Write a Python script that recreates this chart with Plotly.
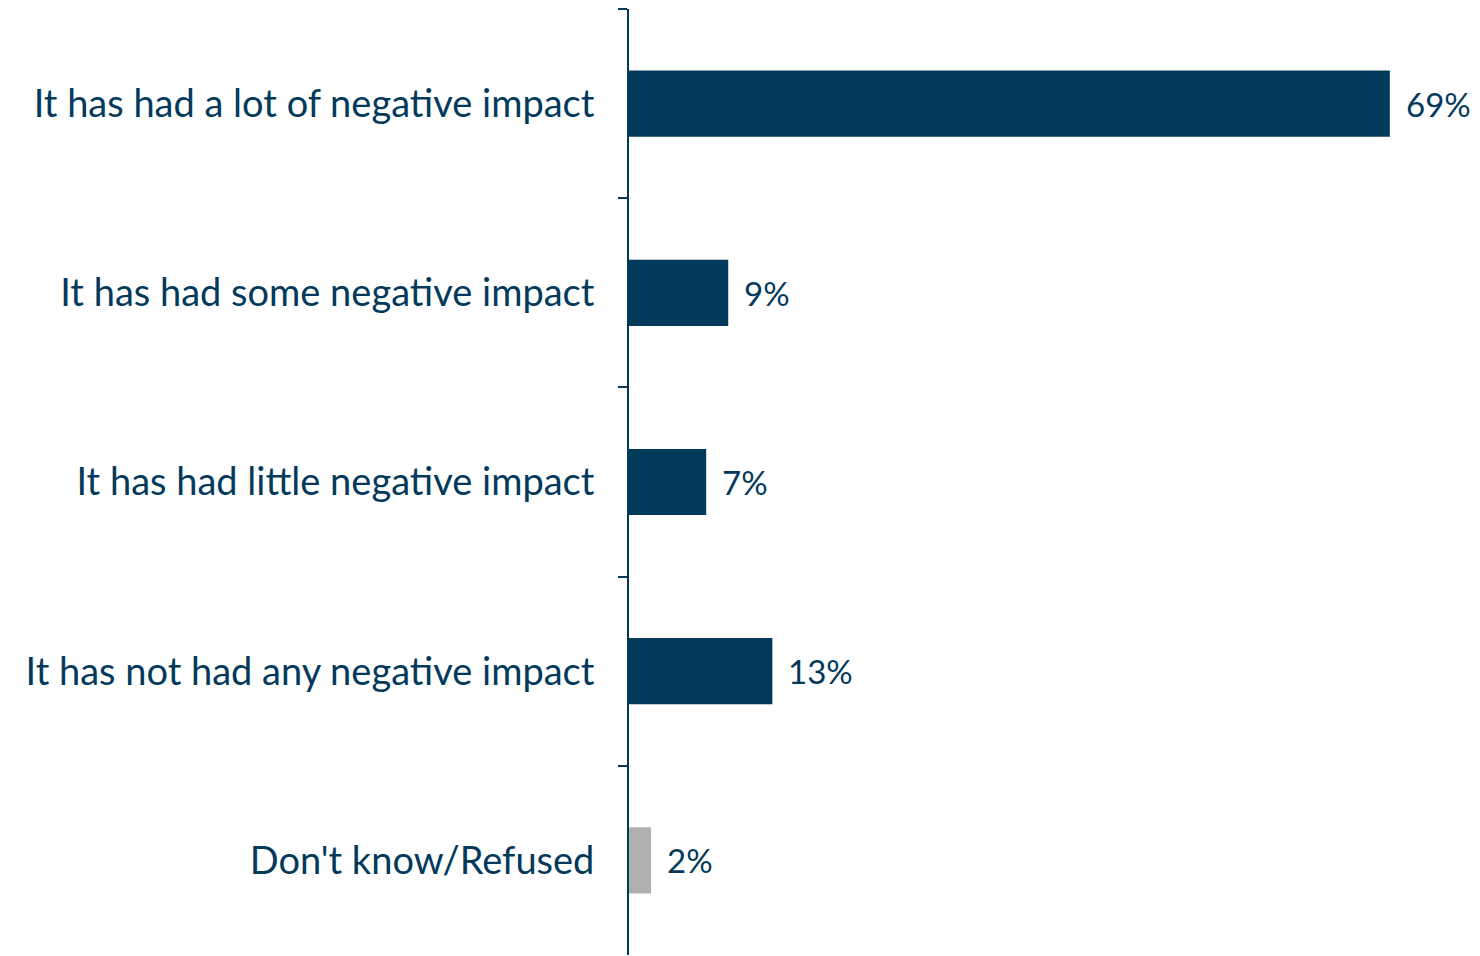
import plotly.graph_objects as go

categories = [
    "It has had a lot of negative impact",
    "It has had some negative impact",
    "It has had little negative impact",
    "It has not had any negative impact",
    "Don't know/Refused",
]
values = [69, 9, 7, 13, 2]
colors = ["#033A5C", "#033A5C", "#033A5C", "#033A5C", "#B0B0B0"]
labels = [f"{v}%" for v in values]

NAVY = "#033A5C"
FONT = "Lato"

fig = go.Figure(
    go.Bar(
        x=values,
        y=categories,
        orientation="h",
        marker=dict(color=colors, line=dict(width=0)),
        hoverinfo="x+y",
    )
)

for cat, v, lab in zip(categories, values, labels):
    fig.add_annotation(
        x=v, y=cat, text=lab, showarrow=False,
        xanchor="left", yanchor="middle", xshift=14,
        font=dict(family=FONT, size=33, color=NAVY),
    )

fig.update_layout(
    width=1480,
    height=956,
    margin=dict(l=621, r=32, t=1, b=9),
    plot_bgcolor="white",
    paper_bgcolor="white",
    bargap=0.65,
    showlegend=False,
    font=dict(family=FONT, size=38, color=NAVY),
)
fig.update_xaxes(range=[0, 75], visible=False, showgrid=False, zeroline=False)
fig.update_yaxes(
    autorange="reversed",
    showline=True,
    linecolor=NAVY,
    linewidth=2,
    ticks="outside",
    tickson="boundaries",
    ticklen=9,
    tickwidth=2,
    tickcolor=NAVY,
    showgrid=False,
    ticklabelstandoff=25,
    tickfont=dict(family=FONT, size=38, color=NAVY),
)

fig.write_html("out.html")
